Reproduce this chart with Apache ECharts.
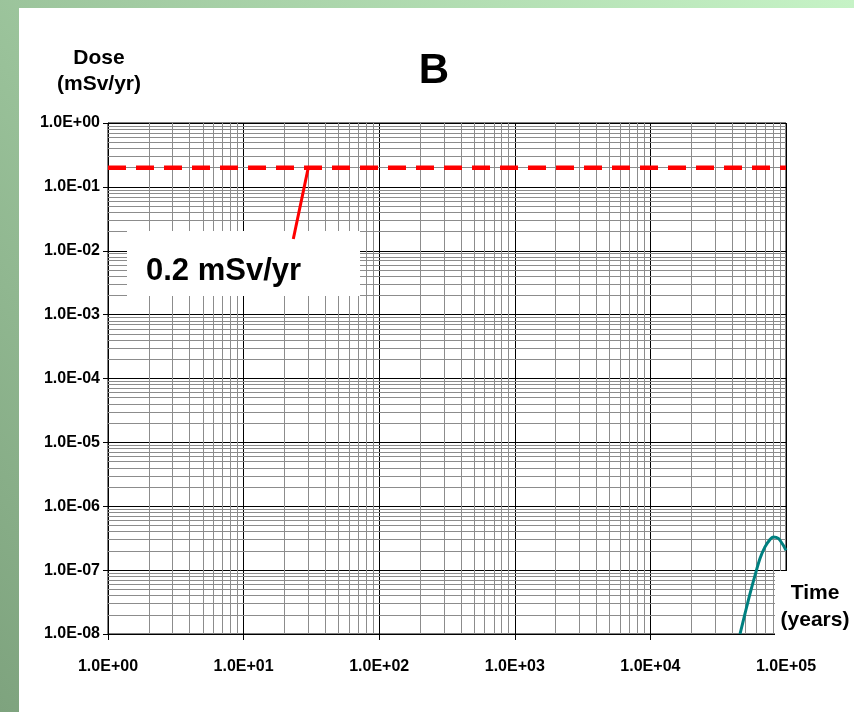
<!DOCTYPE html>
<html>
<head>
<meta charset="utf-8">
<title>Dose B</title>
<script src="https://cdn.jsdelivr.net/npm/echarts@6/dist/echarts.min.js"></script>
<style>
  html, body { margin: 0; padding: 0; }
  #main { width: 854px; height: 712px; }
</style>
</head>
<body>
<div id="main"></div>
<script>
// data
var xTickLabels = ['1.0E+00', '1.0E+01', '1.0E+02', '1.0E+03', '1.0E+04', '1.0E+05'];
var yTickLabels = ['1.0E-08', '1.0E-07', '1.0E-06', '1.0E-05', '1.0E-04', '1.0E-03', '1.0E-02', '1.0E-01', '1.0E+00'];

var limitTime = [1, 100000];
var limitDose = [0.2, 0.2];

var curveTime = [45800, 49900, 54300, 59100, 64300, 70000, 76200, 80600, 87800, 95500, 100000];
var curveDose = [1.0e-8, 2.1e-8, 4.3e-8, 8.3e-8, 1.52e-7, 2.31e-7, 3.02e-7, 3.31e-7, 3.13e-7, 2.45e-7, 2.04e-7];

var annotAt = [30, 0.2];

// minor grid positions 2..9 per decade
var minorX = [], minorY = [];
for (var e = 0; e < 5; e++) for (var m = 2; m <= 9; m++) minorX.push(m * Math.pow(10, e));
for (var e2 = -8; e2 < 0; e2++) for (var m2 = 2; m2 <= 9; m2++) minorY.push(m2 * Math.pow(10, e2));

function zip(a, b) { return a.map(function (v, i) { return [v, b[i]]; }); }
function expLabel(list) {
  return function (v) {
    var ex = Math.round(Math.log10(v));
    for (var i = 0; i < list.length; i++) {
      if (parseInt(list[i].slice(4), 10) === ex) return list[i];
    }
    return '';
  };
}

var minorLines = minorX.map(function (v) { return { coords: [[v, 1e-8], [v, 1]] }; })
  .concat(minorY.map(function (v) { return { coords: [[1, v], [100000, v]] }; }));

var tickFont = { fontFamily: "'Liberation Sans', Arial, sans-serif", fontWeight: 'bold', fontSize: 16, color: '#000' };
var labFont = "bold 21px 'Liberation Sans', Arial, sans-serif";

var chart = echarts.init(document.getElementById('main'));

var option = {
  animation: false,
  backgroundColor: 'transparent',
  grid: { left: 108, top: 123, right: 68, bottom: 78, show: true, borderColor: '#000', borderWidth: 1, backgroundColor: 'transparent' },
  xAxis: {
    type: 'log', logBase: 10, min: 1, max: 100000, interval: 1,
    axisLine: { lineStyle: { color: '#000', width: 1 } },
    axisTick: { show: true, inside: false, length: 6, lineStyle: { color: '#000' } },
    axisLabel: Object.assign({ margin: 25, formatter: expLabel(xTickLabels) }, tickFont),
    splitLine: { show: true, lineStyle: { color: '#000', width: 1 } },
    minorTick: { show: false }, minorSplitLine: { show: false }
  },
  yAxis: {
    type: 'log', logBase: 10, min: 1e-8, max: 1, interval: 1,
    axisLine: { lineStyle: { color: '#000', width: 1 } },
    axisTick: { show: true, inside: false, length: 5, lineStyle: { color: '#000' } },
    axisLabel: Object.assign({ margin: 8, formatter: expLabel(yTickLabels) }, tickFont),
    splitLine: { show: true, lineStyle: { color: '#000', width: 1 } },
    minorTick: { show: false }, minorSplitLine: { show: false }
  },
  series: [
    {
      // minor gridlines
      type: 'lines', coordinateSystem: 'cartesian2d', z: 1, silent: true,
      polyline: false,
      lineStyle: { color: '#8c8c8c', width: 1, opacity: 1 },
      data: minorLines
    },
    {
      name: 'limit', type: 'line', z: 3, showSymbol: false,
      data: zip(limitTime, limitDose),
      lineStyle: { color: '#ff0000', width: 4.5, type: [18, 10] }
    },
    {
      name: 'dose', type: 'line', z: 3, showSymbol: false, smooth: 0.3,
      data: zip(curveTime, curveDose),
      lineStyle: { color: '#008080', width: 3 }
    }
  ]
};
chart.setOption(option);

var anchor = chart.convertToPixel({ gridIndex: 0 }, annotAt);

chart.setOption({
  graphic: [
    {
      type: 'rect', z: -10, silent: true,
      shape: { x: 0, y: 0, width: 854, height: 712 },
      style: { fill: new echarts.graphic.LinearGradient(1, 0, 0, 1, [
        { offset: 0, color: '#c6f3c6' }, { offset: 1, color: '#7ea37e' }]) }
    },
    {
      type: 'rect', z: -9, silent: true,
      shape: { x: 19, y: 8, width: 835, height: 704 },
      style: { fill: '#ffffff' }
    },
    {
      type: 'text', z: 10, silent: true,
      style: { text: 'B', x: 434, y: 71, textAlign: 'center', textVerticalAlign: 'middle',
        font: "bold 42px 'Liberation Sans', Arial, sans-serif", fill: '#000' }
    },
    {
      type: 'text', z: 10, silent: true,
      style: { text: 'Dose\n(mSv/yr)', x: 99, y: 71, textAlign: 'center', textVerticalAlign: 'middle',
        font: labFont, lineHeight: 26, fill: '#000' }
    },
    {
      type: 'rect', z: 5, silent: true,
      shape: { x: 775, y: 571, width: 79, height: 69 },
      style: { fill: '#ffffff' }
    },
    {
      type: 'text', z: 10, silent: true,
      style: { text: 'Time\n(years)', x: 815, y: 607, textAlign: 'center', textVerticalAlign: 'middle',
        font: labFont, lineHeight: 27, fill: '#000' }
    },
    {
      type: 'rect', z: 5, silent: true,
      shape: { x: 127, y: 231, width: 233, height: 65 },
      style: { fill: '#ffffff' }
    },
    {
      type: 'line', z: 6, silent: true,
      shape: { x1: anchor[0], y1: anchor[1], x2: anchor[0] - 15, y2: 239 },
      style: { stroke: '#ff0000', lineWidth: 3 }
    },
    {
      type: 'text', z: 10, silent: true,
      style: { text: '0.2 mSv/yr', x: 146, y: 271, textAlign: 'left', textVerticalAlign: 'middle',
        font: "bold 31px 'Liberation Sans', Arial, sans-serif", fill: '#000' }
    }
  ]
});
</script>
</body>
</html>
